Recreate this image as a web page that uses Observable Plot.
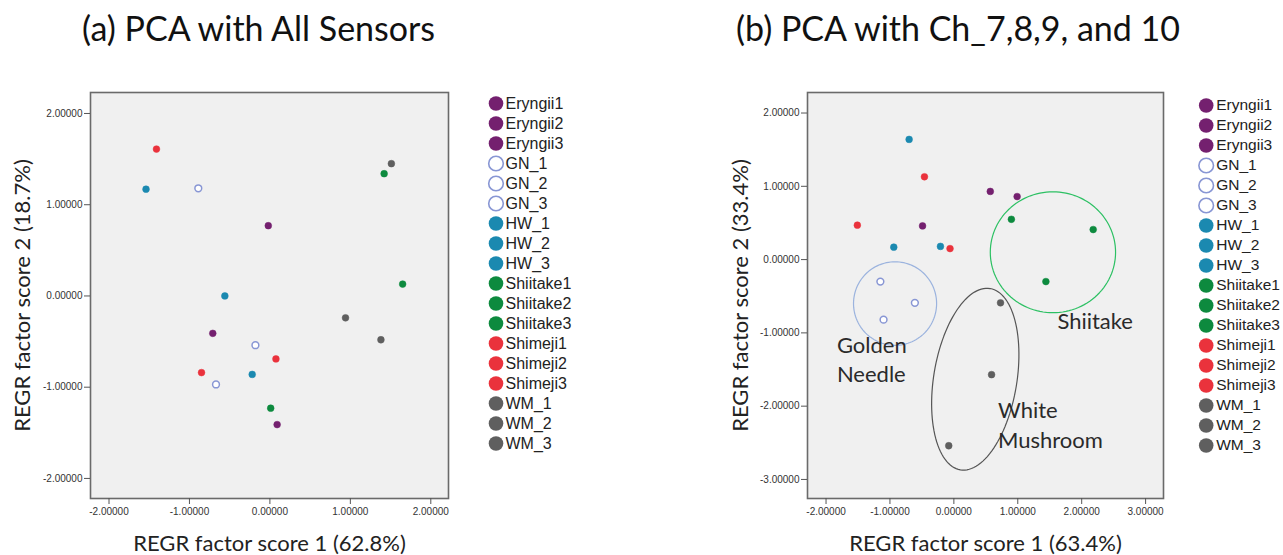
<!DOCTYPE html>
<html>
<head>
<meta charset="utf-8">
<script src="https://cdn.jsdelivr.net/npm/d3@7"></script>
<script src="https://cdn.jsdelivr.net/npm/@observablehq/plot@0.6"></script>
<style>
  html, body { margin: 0; padding: 0; background: #ffffff; }
  #root { position: relative; width: 1283px; height: 555px; overflow: hidden; background: #fff; }
  .title { position: absolute; font-family: Lato, "Open Sans", sans-serif; font-size: 34px; color: #111; white-space: nowrap; line-height: 1; }
  .abs { position: absolute; }
</style>
</head>
<body>
<div id="root">
  <div class="title" id="titleA" style="left:82px; top:11px;"></div>
  <div class="title" id="titleB" style="left:736px; top:11px;"></div>
  <div class="abs" id="plotA" style="left:0px; top:70px; width:460px;"></div>
  <div class="abs" id="legendA" style="left:480px; top:90px; width:110px;"></div>
  <div class="abs" id="plotB" style="left:700px; top:70px; width:475px;"></div>
  <div class="abs" id="legendB" style="left:1190px; top:92px; width:110px;"></div>
</div>
<script>
// ---------- data ----------
const titleA = "(a) PCA with All Sensors";
const titleB = "(b) PCA with Ch_7,8,9, and 10";
const xLabelA = "REGR factor score 1 (62.8%)";
const yLabelA = "REGR factor score 2 (18.7%)";
const xLabelB = "REGR factor score 1 (63.4%)";
const yLabelB = "REGR factor score 2 (33.4%)";

const sampleNames = ["Eryngii1","Eryngii2","Eryngii3","GN_1","GN_2","GN_3","HW_1","HW_2","HW_3",
  "Shiitake1","Shiitake2","Shiitake3","Shimeji1","Shimeji2","Shimeji3","WM_1","WM_2","WM_3"];
const sampleGroups = ["Eryngii","Eryngii","Eryngii","GN","GN","GN","HW","HW","HW",
  "Shiitake","Shiitake","Shiitake","Shimeji","Shimeji","Shimeji","WM","WM","WM"];

const groupNames = ["Eryngii","GN","HW","Shiitake","Shimeji","WM"];
const groupFill = ["#74206f","#ffffff","#1b89b0","#0d8a3e","#ea323c","#5f5f5f"];
const groupStroke = ["#74206f","#8896d4","#1b89b0","#0d8a3e","#ea323c","#5f5f5f"];
const groupHollow = [false,true,false,false,false,false];

// panel (a) scores
const scoreA1 = [-0.02,-0.71,0.09, -0.89,-0.18,-0.67, -1.54,-0.56,-0.22, 1.42,1.65,0.01, -1.41,-0.85,0.075, 1.51,0.94,1.38];
const scoreA2 = [0.77,-0.41,-1.41, 1.18,-0.54,-0.97, 1.17,0.00,-0.86, 1.34,0.13,-1.23, 1.61,-0.84,-0.69, 1.45,-0.24,-0.48];
// panel (b) scores
const scoreB1 = [0.57,0.99,-0.49, -1.15,-0.61,-1.10, -0.70,-0.94,-0.21, 0.90,2.18,1.44, -0.46,-1.51,-0.06, 0.73,0.59,-0.08];
const scoreB2 = [0.93,0.86,0.46, -0.30,-0.59,-0.82, 1.64,0.17,0.18, 0.55,0.41,-0.30, 1.13,0.47,0.15, -0.59,-1.57,-2.54];

const ticksA_x = [-2,-1,0,1,2];
const ticksA_y = [-2,-1,0,1,2];
const ticksB_x = [-2,-1,0,1,2,3];
const ticksB_y = [-3,-2,-1,0,1,2];

// cluster ellipses in panel (b): center, two conjugate semi-axis vectors (data units)
const ellipseNames = ["Golden Needle","Shiitake","White Mushroom"];
const ellipseCx = [-0.92, 1.55, 0.335];
const ellipseCy = [-0.60, 0.10, -1.632];
const ellipseUx = [0.65, 0.98, 0.233];
const ellipseUy = [0.0, 0.0, 1.237];
const ellipseVx = [0.0, 0.0, 0.642];
const ellipseVy = [0.57, 0.825, -0.093];
const ellipseColor = ["#9bb3de","#2cc063","#555555"];

// cluster annotation texts
const noteText = ["Golden","Needle","Shiitake","White","Mushroom"];
const noteX = [-1.83,-1.83,1.62,0.69,0.69];
const noteY = [-1.185,-1.57,-0.85,-2.07,-2.48];

// ---------- build ----------
const fmt = d => d.toFixed(5);
const gIndex = g => groupNames.indexOf(g);

function rows(s1, s2) {
  return sampleNames.map((n, i) => ({name: n, group: sampleGroups[i], x: s1[i], y: s2[i]}));
}
const dataA = rows(scoreA1, scoreA2);
const dataB = rows(scoreB1, scoreB2);

const ellipsePts = [];
ellipseNames.forEach((n, k) => {
  const N = 120;
  for (let j = 0; j <= N; j++) {
    const t = 2 * Math.PI * j / N;
    ellipsePts.push({
      name: n,
      x: ellipseCx[k] + ellipseUx[k] * Math.cos(t) + ellipseVx[k] * Math.sin(t),
      y: ellipseCy[k] + ellipseUy[k] * Math.cos(t) + ellipseVy[k] * Math.sin(t)
    });
  }
});
const notes = noteText.map((t, i) => ({t, x: noteX[i], y: noteY[i]}));

const fillOf = d => groupFill[gIndex(d.group)];
const strokeOf = d => groupStroke[gIndex(d.group)];

function panel(data, opt) {
  const marks = [
    Plot.frame({fill: "#f0f0f0", stroke: "#6a6a6a", strokeWidth: 1.6}),
    Plot.axisX({ticks: opt.xt, tickFormat: fmt, tickSize: 6, tickPadding: 3, label: null,
      fill: "#333", stroke: "#555", fontSize: 10}),
    Plot.axisY({ticks: opt.yt, tickFormat: fmt, tickSize: 6, tickPadding: 2, label: null,
      fill: "#333", stroke: "#555", fontSize: 10}),
  ];
  if (opt.ellipses) {
    marks.push(Plot.line(ellipsePts, {x: "x", y: "y", z: "name",
      stroke: d => ellipseColor[ellipseNames.indexOf(d.name)], strokeWidth: 1.2, curve: "linear"}));
    marks.push(Plot.text(notes, {x: "x", y: "y", text: "t", textAnchor: "start",
      fontFamily: "Lato, 'Open Sans', sans-serif", fontSize: 22, fill: "#2a2a2a"}));
  }
  marks.push(Plot.dot(data, {x: "x", y: "y", r: 3.4,
    fill: d => groupHollow[gIndex(d.group)] ? "#ffffff" : fillOf(d),
    stroke: strokeOf, strokeWidth: d => groupHollow[gIndex(d.group)] ? 1.5 : 0.5}));
  marks.push(Plot.text([opt.xl], {frameAnchor: "bottom", dy: 45, text: d => d,
    textAnchor: "middle", lineAnchor: "middle",
    fontFamily: "Lato, 'Open Sans', sans-serif", fontSize: 22, fill: "#222"}));
  marks.push(Plot.text([opt.yl], {frameAnchor: "left", dx: opt.ydx, rotate: -90, text: d => d,
    textAnchor: "middle", lineAnchor: "middle",
    fontFamily: "Lato, 'Open Sans', sans-serif", fontSize: 22, fill: "#222"}));
  return Plot.plot({
    width: opt.width, height: 485,
    marginLeft: opt.ml, marginRight: 12, marginTop: 22, marginBottom: 57,
    x: {domain: opt.xd},
    y: {domain: opt.yd},
    style: {background: "transparent", fontFamily: "'Liberation Sans', Arial, sans-serif", fontSize: "10px", overflow: "visible"},
    marks
  });
}

function legend(ml, dx, fs) {
  return Plot.plot({
    width: 110, height: 365,
    marginLeft: ml, marginRight: 10, marginTop: 10, marginBottom: 10,
    x: {domain: [0, 1], axis: null},
    y: {type: "point", domain: sampleNames, padding: 0, axis: null},
    style: {background: "transparent", overflow: "visible"},
    marks: [
      Plot.dot(dataA, {x: () => 0, y: "name", r: 7.3,
        fill: d => groupHollow[gIndex(d.group)] ? "#ffffff" : fillOf(d),
        stroke: strokeOf, strokeWidth: d => groupHollow[gIndex(d.group)] ? 1.6 : 0}),
      Plot.text(dataA, {x: () => 0, y: "name", text: "name", dx: dx, textAnchor: "start",
        fontFamily: "'Liberation Sans', Arial, sans-serif", fontSize: fs, fill: "#222"})
    ]
  });
}

document.getElementById("titleA").textContent = titleA;
document.getElementById("titleB").textContent = titleB;

document.getElementById("plotA").appendChild(panel(dataA, {
  width: 460, ml: 90, xd: [-2.23, 2.22], yd: [-2.22, 2.23], xt: ticksA_x, yt: ticksA_y,
  xl: xLabelA, yl: yLabelA, ydx: -68, ellipses: false
}));
document.getElementById("plotB").appendChild(panel(dataB, {
  width: 475, ml: 107, xd: [-2.29, 3.28], yd: [-3.26, 2.28], xt: ticksB_x, yt: ticksB_y,
  xl: xLabelB, yl: yLabelB, ydx: -67, ellipses: true
}));
document.getElementById("legendA").appendChild(legend(15.5, 9.5, 16));
document.getElementById("legendB").appendChild(legend(15.7, 10, 15.5));
</script>
</body>
</html>
